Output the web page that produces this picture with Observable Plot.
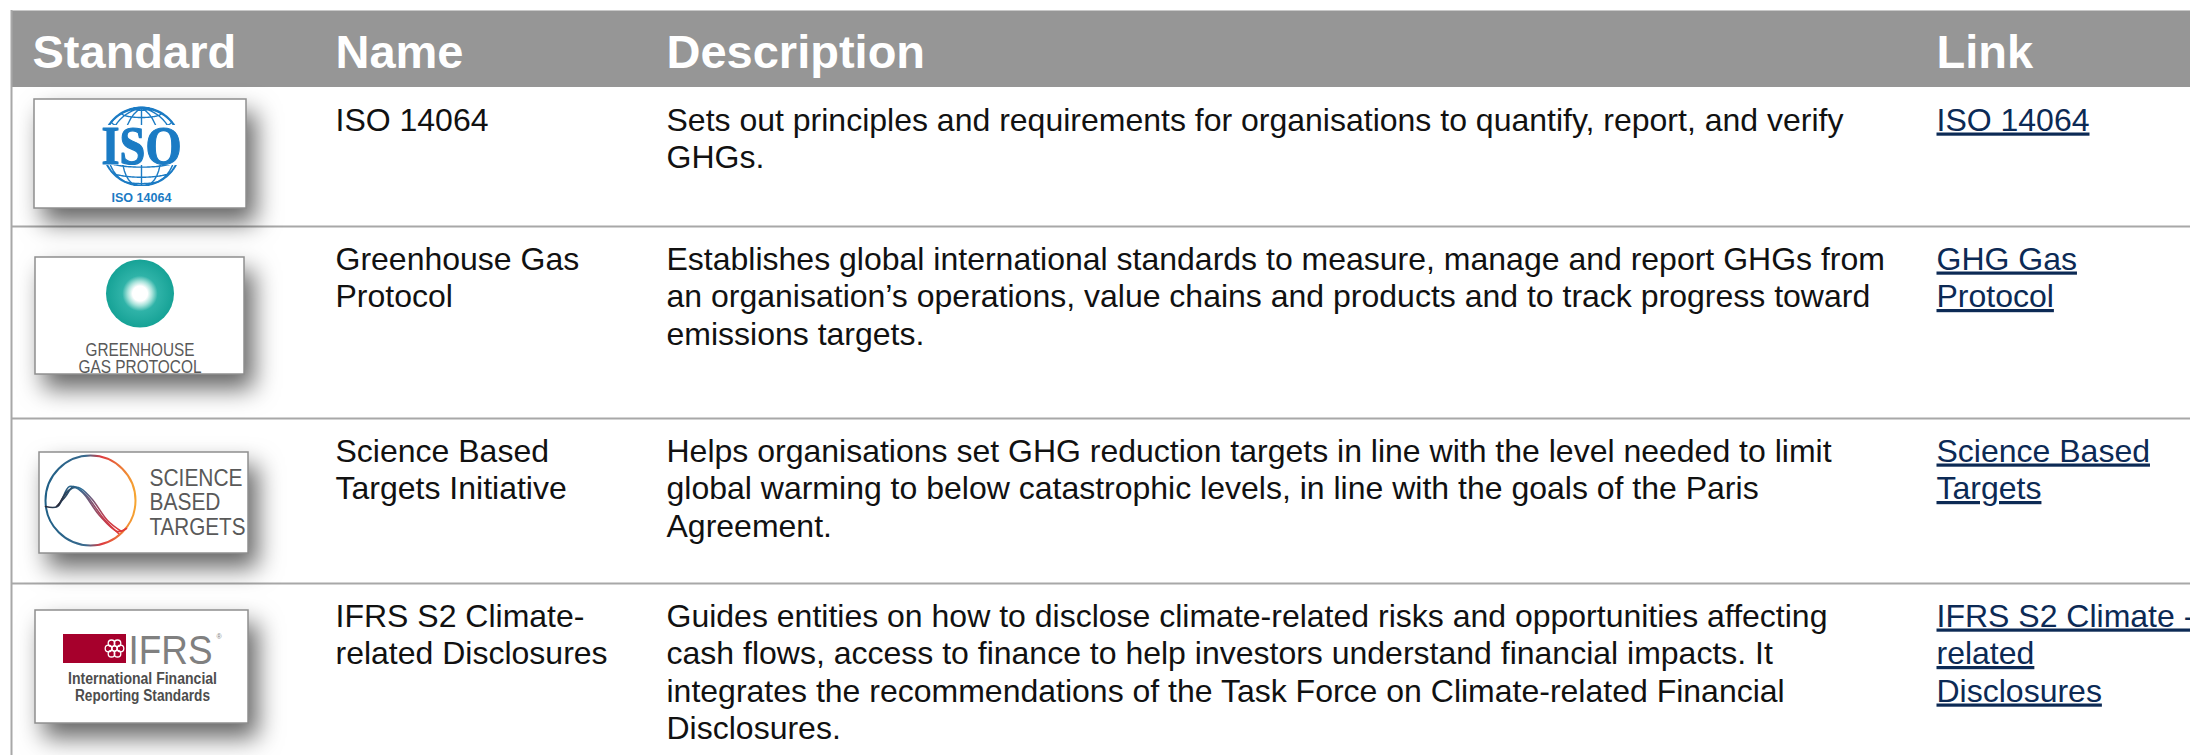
<!DOCTYPE html>
<html>
<head>
<meta charset="utf-8">
<script src="https://cdn.jsdelivr.net/npm/d3@7"></script>
<script src="https://cdn.jsdelivr.net/npm/@observablehq/plot@0.6"></script>
<style>
  html, body { margin: 0; padding: 0; background: #ffffff; }
  #chart { width: 2190px; height: 755px; overflow: hidden; }
</style>
</head>
<body>
<div id="chart"></div>
<script>
// ---------------- data ----------------
const headers = ["Standard", "Name", "Description", "Link"];

const standardNames = [
  "ISO 14064",
  "Greenhouse Gas\nProtocol",
  "Science Based\nTargets Initiative",
  "IFRS S2 Climate-\nrelated Disclosures"
];

const descriptions = [
  "Sets out principles and requirements for organisations to quantify, report, and verify\nGHGs.",
  "Establishes global international standards to measure, manage and report GHGs from\nan organisation\u2019s operations, value chains and products and to track progress toward\nemissions targets.",
  "Helps organisations set GHG reduction targets in line with the level needed to limit\nglobal warming to below catastrophic levels, in line with the goals of the Paris\nAgreement.",
  "Guides entities on how to disclose climate-related risks and opportunities affecting\ncash flows, access to finance to help investors understand financial impacts. It\nintegrates the recommendations of the Task Force on Climate-related Financial\nDisclosures."
];

const linkLabels = [
  "ISO 14064",
  "GHG Gas\nProtocol",
  "Science Based\nTargets",
  "IFRS S2 Climate -\nrelated\nDisclosures"
];

const isoLogoText = ["ISO", "ISO 14064"];
const ghgLogoText = ["GREENHOUSE", "GAS PROTOCOL"];
const sbtLogoText = ["SCIENCE", "BASED", "TARGETS"];
const ifrsLogoText = ["IFRS", "\u00AE", "International Financial", "Reporting Standards"];

// ---------------- layout (positions / sizes / styles) ----------------
const W = 2190, H = 755;
const L = {
  left: 11, headerTop: 10, headerBottom: 87,
  rowTops: [87, 226, 418, 583], tableBottom: 800,
  colX: [32, 335, 666, 1936],
  headBaseline: 67, firstBaseline: 43, lineStep: 37.5,
  headSize: 47, bodySize: 32
};
const logoBoxes = [
  {x1: 34, x2: 246, y1: 99, y2: 208},
  {x1: 35, x2: 244, y1: 257, y2: 374},
  {x1: 39, x2: 248, y1: 452, y2: 553},
  {x1: 35, x2: 248, y1: 610, y2: 723}
];
const C = {
  header: "#969696", rule: "#a8a8a8", body: "#111111", link: "#0c2a55",
  isoBlue: "#1b7bc4", grey: "#595959", ifrsRed: "#a6002c", ifrsGrey: "#808080"
};
const SANS = "'Liberation Sans', Arial, Helvetica, sans-serif";

// target widths to condense logo lettering (px)
const fitWidths = {
  "ISO": 80, "ISO 14064": 60,
  "GREENHOUSE": 109, "GAS PROTOCOL": 123,
  "SCIENCE": 93, "BASED": 71, "TARGETS": 96,
  "IFRS": 84, "International Financial": 149, "Reporting Standards": 135
};

// logo geometry (relative to logo anchors)
const isoGlobe = {cx: 141, cy: 146, r: 40};
const ghgDisc = {cx: 139.5, cy: 293, r: 34};
const sbtRing = {cx: 90, cy: 500, r: 45};
const ifrsMark = {cx: 114, cy: 648};
const sbtWaves = [
  {wave: "a", pts: [[-45, 6], [-33, 6], [-21, -14], [-9, -9], [9, 15], [27, 31], [36, 28]]},
  {wave: "b", pts: [[-34, 6], [-25, -4], [-17, -14], [-5, -6], [13, 18], [28, 33]]},
  {wave: "c", pts: [[-32, 5], [-22, -10], [-12, -13], [1, -2], [17, 20], [31, 31]]}
];
const ifrsPetals = [0, 60, 120, 180, 240, 300];

// ---------------- helpers ----------------
const toLines = (items) => items.flatMap((s, row) => s.split("\n").map((text, line) => ({row, line, text})));
const lineY = (d) => L.rowTops[d.row] + L.firstBaseline + d.line * L.lineStep;

const nameLines = toLines(standardNames);
const descLines = toLines(descriptions);
const linkLines = toLines(linkLabels);

const waveData = sbtWaves.flatMap(w => w.pts.map(([dx, dy]) => ({wave: w.wave, x: sbtRing.cx + dx, y: sbtRing.cy + dy})));
const petalData = ifrsPetals.map(a => ({x: ifrsMark.cx + 6 * Math.cos(a * Math.PI / 180), y: ifrsMark.cy + 6 * Math.sin(a * Math.PI / 180)}));

const bodyText = {textAnchor: "start", lineAnchor: "bottom", fontSize: L.bodySize, fill: C.body};

const svg = Plot.plot({
  width: W, height: H, margin: 0,
  x: {type: "identity", axis: null},
  y: {type: "identity", axis: null},
  style: {fontFamily: SANS, background: "#ffffff", overflow: "hidden"},
  marks: [
    // header band
    Plot.rect([{}], {x1: L.left, x2: W, y1: L.headerTop, y2: L.headerBottom, fill: C.header}),
    Plot.ruleY([L.headerTop], {x1: L.left, x2: W, stroke: "#c8c8c8", strokeWidth: 1}),
    // row separators and left border
    Plot.ruleY(L.rowTops.slice(1), {x1: L.left, x2: W, stroke: C.rule, strokeWidth: 2}),
    Plot.ruleX([L.left], {y1: L.headerTop, y2: H, stroke: C.rule, strokeWidth: 2}),
    // header text
    Plot.text(headers, {x: (d, i) => L.colX[i], y: L.headBaseline, text: d => d, textAnchor: "start", lineAnchor: "bottom",
      fontSize: L.headSize, fontWeight: "bold", fill: "#ffffff"}),
    // body columns
    Plot.text(nameLines, {...bodyText, x: L.colX[1], y: lineY, text: "text"}),
    Plot.text(descLines, {...bodyText, x: L.colX[2], y: lineY, text: "text"}),
    Plot.text(linkLines, {...bodyText, x: L.colX[3], y: lineY, text: "text", fill: C.link, ariaDescription: "links"}),

    // logo frames with shadow
    Plot.rect(logoBoxes, {x1: "x1", x2: "x2", y1: "y1", y2: "y2", fill: "#ffffff", stroke: "#8f8f8f", strokeWidth: 1.5, ariaDescription: "logo box"}),

    // ISO logo
    Plot.rect([{}], {x1: isoGlobe.cx - 44, x2: isoGlobe.cx + 44, y1: isoGlobe.cy - 21, y2: isoGlobe.cy + 19, fill: "#ffffff", ariaDescription: "iso band"}),
    Plot.text([isoLogoText[0]], {x: isoGlobe.cx, y: isoGlobe.cy + 17, text: d => d, textAnchor: "middle", lineAnchor: "bottom",
      fontFamily: "'Liberation Serif', 'DejaVu Serif', serif", fontWeight: "bold", fontSize: 54, fill: C.isoBlue,
      stroke: C.isoBlue, strokeWidth: 1.2, ariaDescription: "fit"}),
    Plot.text([isoLogoText[1]], {x: isoGlobe.cx, y: 201, text: d => d, textAnchor: "middle", lineAnchor: "bottom",
      fontWeight: "bold", fontSize: 12.5, fill: C.isoBlue, ariaDescription: "fit"}),

    // GHG logo
    Plot.dot([{}], {x: ghgDisc.cx, y: ghgDisc.cy, r: ghgDisc.r, fill: "url(#ghgGrad)", stroke: "none"}),
    Plot.text(ghgLogoText, {x: ghgDisc.cx, y: (d, i) => 355 + i * 17, text: d => d, textAnchor: "middle", lineAnchor: "bottom",
      fontSize: 18, fill: C.grey, ariaDescription: "fit"}),

    // SBTi logo
    Plot.dot([{}], {x: sbtRing.cx, y: sbtRing.cy, r: sbtRing.r, fill: "none", stroke: "url(#sbtGrad)", strokeWidth: 2}),
    Plot.line(waveData, {x: "x", y: "y", z: "wave", curve: "catmull-rom", stroke: "url(#sbtWaveGrad)", strokeWidth: 1.6}),
    Plot.text(sbtLogoText, {x: 149, y: (d, i) => 485 + i * 24.5, text: d => d, textAnchor: "start", lineAnchor: "bottom",
      fontSize: 24, fill: C.grey, ariaDescription: "fit"}),

    // IFRS logo
    Plot.rect([{}], {x1: 63, x2: 126, y1: 634, y2: 663, fill: C.ifrsRed}),
    Plot.dot(petalData, {x: "x", y: "y", r: 3.3, stroke: "#ffffff", strokeWidth: 1.3, fill: "none"}),
    Plot.dot([{}], {x: ifrsMark.cx, y: ifrsMark.cy, r: 2.6, stroke: "#ffffff", strokeWidth: 1.3, fill: "none"}),
    Plot.text([ifrsLogoText[0]], {x: 128, y: 663, text: d => d, textAnchor: "start", lineAnchor: "bottom",
      fontSize: 40, fill: C.ifrsGrey, ariaDescription: "fit"}),
    Plot.text([ifrsLogoText[1]], {x: 216, y: 638, text: d => d, textAnchor: "start", lineAnchor: "bottom",
      fontSize: 7, fill: C.ifrsGrey}),
    Plot.text(ifrsLogoText.slice(2), {x: 142, y: (d, i) => 683 + i * 17, text: d => d, textAnchor: "middle", lineAnchor: "bottom",
      fontWeight: "bold", fontSize: 16, fill: "#4d4d4d", ariaDescription: "fit"})
  ]
});

const root = d3.select(svg);
root.insert("defs", ":first-child").html(`
  <radialGradient id="ghgGrad" cx="0.5" cy="0.5" r="0.5">
    <stop offset="0" stop-color="#ffffff"/>
    <stop offset="0.22" stop-color="#ffffff"/>
    <stop offset="0.36" stop-color="#a6e2da"/>
    <stop offset="0.52" stop-color="#2fb3a8"/>
    <stop offset="1" stop-color="#16a296"/>
  </radialGradient>
  <linearGradient id="sbtGrad" x1="0" y1="0" x2="1" y2="0">
    <stop offset="0" stop-color="#1f5f86"/>
    <stop offset="0.45" stop-color="#3a6a8e"/>
    <stop offset="0.62" stop-color="#de3a3f"/>
    <stop offset="1" stop-color="#f6a531"/>
  </linearGradient>
  <linearGradient id="sbtWaveGrad" x1="0" y1="0" x2="1" y2="0">
    <stop offset="0" stop-color="#2a2a3a"/>
    <stop offset="0.35" stop-color="#2b6f99"/>
    <stop offset="0.75" stop-color="#c23a4c"/>
    <stop offset="1" stop-color="#e23a35"/>
  </linearGradient>
`);

root.selectAll('g[aria-description="logo box"]').style("filter", "drop-shadow(9px 14px 12px rgba(0,0,0,0.6))");
root.selectAll('g[aria-description="links"] text')
  .style("text-decoration", "underline")
  .style("text-decoration-thickness", "2px");
root.selectAll('g[aria-description="fit"] text').each(function () {
  const w = fitWidths[this.textContent];
  if (w) d3.select(this).attr("textLength", w).attr("lengthAdjust", "spacingAndGlyphs");
});

// ISO globe drawn as a small orthographic Plot nested under the ISO band
try {
  const globe = Plot.plot({
    width: 2 * isoGlobe.r, height: 2 * isoGlobe.r, margin: 1,
    projection: {type: "orthographic", rotate: [0, -12]},
    style: {background: "none"},
    marks: [
      Plot.geo(d3.geoGraticule().step([30, 20])(), {stroke: C.isoBlue, strokeWidth: 1.4, strokeOpacity: 1}),
      Plot.sphere({stroke: C.isoBlue, strokeWidth: 2})
    ]
  });
  d3.select(globe)
    .attr("x", isoGlobe.cx - isoGlobe.r).attr("y", isoGlobe.cy - isoGlobe.r)
    .attr("width", 2 * isoGlobe.r).attr("height", 2 * isoGlobe.r)
    .style("width", 2 * isoGlobe.r + "px").style("height", 2 * isoGlobe.r + "px")
    .style("max-width", "none").style("background", "none");
  const band = svg.querySelector('g[aria-description="iso band"]');
  svg.insertBefore(globe, band);
} catch (e) {
  console.error(e);
}

document.getElementById("chart").appendChild(svg);
</script>
</body>
</html>
